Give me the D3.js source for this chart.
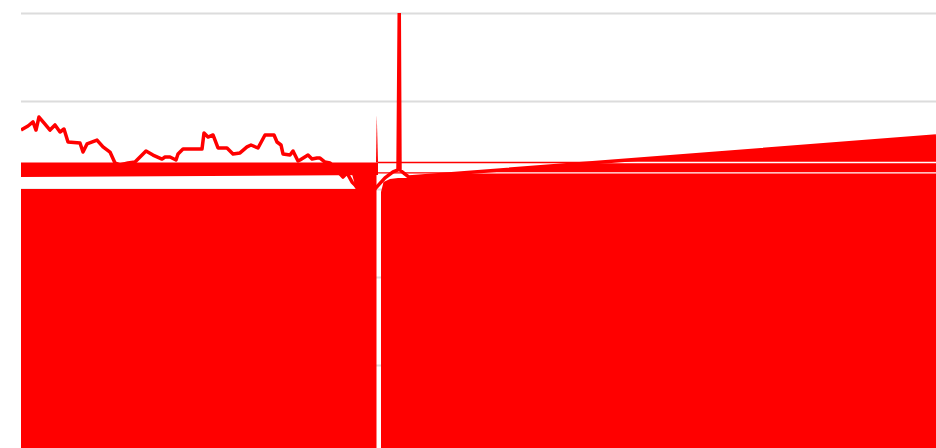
<!DOCTYPE html>
<html>
<head>
<meta charset="utf-8">
<script src="https://cdn.jsdelivr.net/npm/d3@7"></script>
<style>
  body { margin: 0; background: #fff; }
  svg { display: block; }
</style>
</head>
<body>
<svg id="chart" width="936" height="448"></svg>
<script>
// price line (day index, value)
const days = [0, 2.8, 4.8, 6, 7.2, 9.6, 11.6, 13.6, 15.6, 17.2, 18.8, 23.6, 24.8, 26.4, 30.4, 32.8, 35.6, 37.6, 39.6, 42.8,
  45.6, 50, 52.8, 56.4, 57.6, 59.6, 62, 62.8, 64.8, 72.4, 73.2, 74.8, 76.8, 78.8, 82.4, 84.8, 87.6, 90.4, 92, 94.8,
  97.6, 101.2, 102.4, 104, 104.8, 107.6, 108.8, 110.8, 111.6, 114.8, 116.4, 118.4, 119.6, 121.6, 123.6, 128.8, 130.4, 132.4, 133.6, 135.6,
  137.6, 145.6, 148.8, 150.8, 151.3, 151.6, 153.6, 155.2, 366];
const price = [183.5, 185.8, 188.1, 183.5, 190.9, 186.9, 183.5, 186.4, 182.4, 184.1, 176.7, 176.1, 171.0, 175.6, 177.8, 173.9, 171.0, 164.8, 163.6, 164.8,
  165.3, 171.6, 169.3, 167.0, 168.2, 168.2, 166.5, 169.9, 172.7, 172.7, 181.8, 179.5, 180.7, 173.3, 173.3, 169.9, 170.5, 173.9, 175, 173.3,
  180.7, 180.7, 176.7, 175, 169.9, 169.3, 171.6, 165.9, 166.5, 169.3, 167.0, 167.6, 167.6, 165.3, 164.8, 156.8, 159.1, 154, 152.3, 148.3,
  143.8, 156.3, 159.7, 160.8, 250, 160.8, 158.5, 156.8, 180.1];

// filled regions (day, low, high)
const bandDays = [0, 142.8];
const bandLo = [156.8, 158.0];
const bandHi = [165.1, 165.1];

const spikeDays = [142.0, 142.3, 142.8];
const spikeLo = [165.1, 165.1, 165.1];
const spikeHi = [165.1, 192, 165.1];

const leftDays = [0, 142.2];
const leftLo = [-5, -5];
const leftHi = [150, 150];

const wedgeDays = [132.4, 133.6, 134.8, 142.2];
const wedgeLo = [158.5, 152.3, 150, 150];
const wedgeHi = [158.5, 158.5, 158.5, 158.5];

const rightDays = [144, 145, 147.6, 150.8, 153.6, 366];
const rightLo = [-5, -5, -5, -5, -5, -5];
const rightHi = [148.3, 154.0, 155.7, 156.3, 156.2, 179.8];

const stripeDays = [142.8, 366];
const stripe1Lo = [164.7, 164.7];
const stripe1Hi = [165.5, 165.5];
const stripe2Lo = [158.8, 158.8];
const stripe2Hi = [159.5, 159.5];

const yTicks = [0, 50, 100, 150, 200, 250];

const width = 936, height = 448;
const margin = { left: 21, top: 13 };

const svg = d3.select("#chart");

const x = d3.scaleLinear().domain([0, 366]).range([margin.left, width]);
const y = d3.scaleLinear().domain([0, 250]).range([453, margin.top]);

svg.append("defs").append("clipPath").attr("id", "plot")
  .append("rect")
  .attr("x", margin.left).attr("y", margin.top)
  .attr("width", width - margin.left).attr("height", height);

// grid
const grid = svg.append("g")
  .attr("transform", `translate(${margin.left},0)`)
  .call(d3.axisLeft(y).tickValues(yTicks).tickSize(-(width - margin.left)).tickFormat(""));
grid.select(".domain").remove();
grid.selectAll("line").attr("stroke", "#dcdcdc").attr("stroke-width", 2);

const zip = (ds, lo, hi) => ds.map((d, i) => ({ d, lo: lo[i], hi: hi[i] }));
const area = d3.area()
  .x((p) => x(p.d))
  .y0((p) => y(p.lo))
  .y1((p) => y(p.hi));

const plot = svg.append("g").attr("clip-path", "url(#plot)");

[[bandDays, bandLo, bandHi], [spikeDays, spikeLo, spikeHi], [leftDays, leftLo, leftHi], [wedgeDays, wedgeLo, wedgeHi]]
  .forEach(([ds, lo, hi]) => {
    plot.append("path")
      .attr("fill", "red")
      .attr("d", area(zip(ds, lo, hi)));
  });

// right block with the two thin stripes cut through it
plot.append("path")
  .attr("fill", "red")
  .attr("fill-rule", "evenodd")
  .attr("d", [
    area(zip(rightDays, rightLo, rightHi)),
    area(zip(stripeDays, stripe1Lo, stripe1Hi)),
    area(zip(stripeDays, stripe2Lo, stripe2Hi))
  ].join(""));

const line = d3.line()
  .x((d, i) => x(days[i]))
  .y((d) => y(d));

plot.append("path")
  .datum(price)
  .attr("fill", "none")
  .attr("stroke", "red")
  .attr("stroke-width", 3.5)
  .attr("stroke-linejoin", "round")
  .attr("d", line);
</script>
</body>
</html>
